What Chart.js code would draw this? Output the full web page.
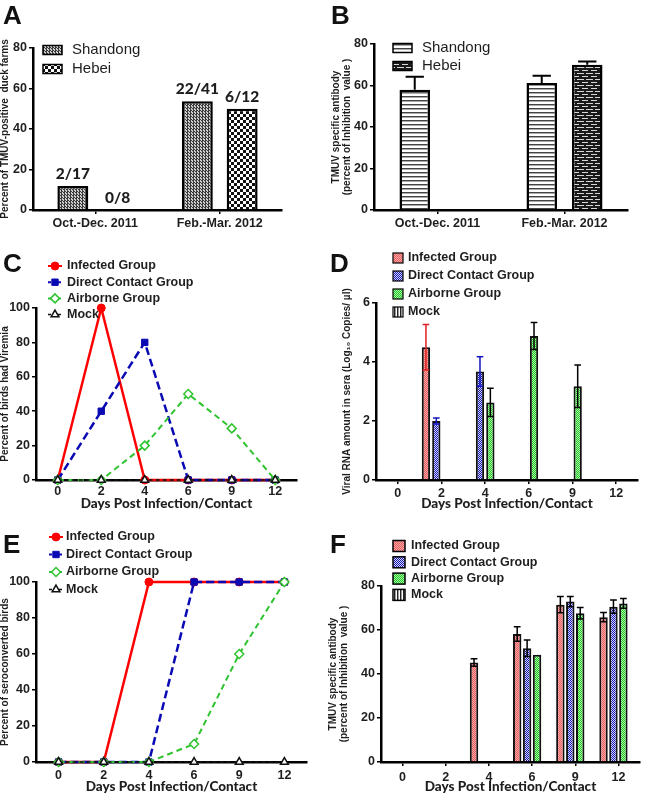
<!DOCTYPE html>
<html><head><meta charset="utf-8">
<script src="https://cdn.jsdelivr.net/npm/chart.js@4.4.1/dist/chart.umd.min.js"></script>
<style>
html,body{margin:0;padding:0;background:#fff}
body{width:650px;height:795px;position:relative;overflow:hidden}
canvas{position:absolute}
.L{position:absolute;font:bold 26px/26px 'Liberation Sans',Arial,sans-serif;color:#111}
</style></head><body>
<canvas id="cA" style="left:0;top:0" width="325" height="245"></canvas>
<canvas id="cB" style="left:325px;top:0" width="325" height="245"></canvas>
<canvas id="cC" style="left:0;top:245px" width="325" height="275"></canvas>
<canvas id="cD" style="left:325px;top:245px" width="325" height="275"></canvas>
<canvas id="cE" style="left:0;top:520px" width="325" height="275"></canvas>
<canvas id="cF" style="left:325px;top:520px" width="325" height="275"></canvas>
<div class="L" style="left:3px;top:2px">A</div>
<div class="L" style="left:331px;top:2px">B</div>
<div class="L" style="left:3px;top:250px">C</div>
<div class="L" style="left:330px;top:250px">D</div>
<div class="L" style="left:3px;top:531px">E</div>
<div class="L" style="left:330px;top:531px">F</div>
<script>
// ---------------- data ----------------
const periodLabels = ['Oct.-Dec. 2011', 'Feb.-Mar. 2012'];
const farmShandong = [11.8, 53.7];
const farmHebei = [0, 50];
const farmRatioShandong = ['2/17', '22/41'];
const farmRatioHebei = ['0/8', '6/12'];

const abFieldShandong = [57.9, 61.2];
const abFieldShandongErr = [6.3, 3.5];
const abFieldHebei = [null, 70.0];
const abFieldHebeiErr = [null, 1.6];

const dayLabels = ['0', '2', '4', '6', '9', '12'];
const groupNames = ['Infected Group', 'Direct Contact Group', 'Airborne Group', 'Mock'];

const viremiaInfected = [0, 100, 0, 0, 0, 0];
const viremiaDirect   = [0, 40, 80, 0, 0, 0];
const viremiaAirborne = [0, 0, 20, 50, 30, 0];
const viremiaMock     = [0, 0, 0, 0, 0, 0];

const rnaInfected    = [null, 4.5, null, null, null, null];
const rnaInfectedErr = [null, 0.77, null, null, null, null];
const rnaDirect      = [null, 2.0, 3.68, null, null, null];
const rnaDirectErr   = [null, 0.1, 0.5, null, null, null];
const rnaAirborne    = [null, null, 2.63, 4.88, 3.18, null];
const rnaAirborneErr = [null, null, 0.48, 0.46, 0.72, null];
const rnaMock        = [null, null, null, null, null, null];

const seroInfected = [0, 0, 100, 100, 100, 100];
const seroDirect   = [0, 0, 0, 100, 100, 100];
const seroAirborne = [0, 0, 0, 10, 60, 100];
const seroMock     = [0, 0, 0, 0, 0, 0];

const abInfected    = [null, null, 45.2, 58.2, 71.5, 65.8];
const abInfectedErr = [null, null, 1.7, 3.3, 3.7, 2.1];
const abDirect      = [null, null, null, 51.7, 72.9, 70.6];
const abDirectErr   = [null, null, null, 3.8, 2.3, 3.0];
const abAirborne    = [null, null, null, 48.7, 67.6, 72.1];
const abAirborneErr = [null, null, null, 0, 2.6, 2.2];
const abMock        = [null, null, null, null, null, null];

// ---------------- styles ----------------
const SANS = "'Liberation Sans', Arial, sans-serif";
const CAL = "Lato, 'Liberation Sans', sans-serif";
const TXT = '#1e1e1e';
const TICK_FONT = {family: SANS, size: 12.5, weight: 'bold'};
const XT_FONT = {family: CAL, size: 13.5, weight: '900', lineHeight: 1.2};
const YT_FONT = {family: SANS, size: 10, weight: 'bold', lineHeight: 1.05};

function pat(w, h, draw) {
  const c = document.createElement('canvas'); c.width = w; c.height = h;
  const g = c.getContext('2d'); draw(g); return g.createPattern(c, 'repeat');
}
function checker(a, b, s) {
  return pat(2 * s, 2 * s, g => { g.fillStyle = a; g.fillRect(0, 0, 2 * s, 2 * s); g.fillStyle = b; g.fillRect(0, 0, s, s); g.fillRect(s, s, s, s); });
}
const fillFarmShandong = pat(3, 3, g => { g.fillStyle = '#cfcfcf'; g.fillRect(0, 0, 3, 3); g.fillStyle = '#3a3a3a'; g.fillRect(0, 0, 2, 1); g.fillRect(1, 1, 1, 2); g.fillRect(2, 2, 1, 1); });
const fillFarmHebei = checker('#111111', '#ffffff', 3);
const fillAbShandong = pat(1, 4, g => { g.fillStyle = '#fff'; g.fillRect(0, 0, 1, 4); g.fillStyle = '#444'; g.fillRect(0, 0, 1, 1); g.fillStyle = '#aaa'; g.fillRect(0, 1, 1, 1); });
const fillAbHebei = pat(9, 6, g => {
  g.fillStyle = '#1a1a1a'; g.fillRect(0, 0, 9, 6);
  g.fillStyle = '#d8d8d8';
  g.fillRect(0, 1, 7, 1);
  g.fillRect(5, 4, 4, 1); g.fillRect(0, 4, 2, 1);
});
const fillInfected = checker('#e85e5e', '#f6a8a8', 1);
const fillDirect = checker('#1414b0', '#d6d8ff', 1);
const fillAirborne = checker('#22cc22', '#a8f2a8', 1);
const fillMock = pat(3, 1, g => { g.fillStyle = '#fff'; g.fillRect(0, 0, 3, 1); g.fillStyle = '#222'; g.fillRect(0, 0, 1, 1); g.fillStyle = '#999'; g.fillRect(1, 0, 1, 1); });

// ---------------- plugins ----------------
const errorBars = {
  id: 'errorBars',
  afterDatasetsDraw(chart) {
    const ctx = chart.ctx, ys = chart.scales.y;
    chart.data.datasets.forEach((ds, i) => {
      if (!ds.errors) return;
      const meta = chart.getDatasetMeta(i);
      meta.data.forEach((bar, j) => {
        const v = ds.data[j], e = ds.errors[j];
        if (v == null || !e) return;
        const top = ys.getPixelForValue(v + e);
        const bot = ys.getPixelForValue(ds.errorMode === 'up' ? v : v - e);
        const w = bar.width * (ds.capRatio || 0.6);
        ctx.save();
        ctx.strokeStyle = ds.errorColor || '#000';
        ctx.lineWidth = ds.errorWidth || 1.5;
        ctx.beginPath();
        ctx.moveTo(bar.x, bot); ctx.lineTo(bar.x, top);
        ctx.moveTo(bar.x - w / 2, top); ctx.lineTo(bar.x + w / 2, top);
        if (ds.errorMode !== 'up') { ctx.moveTo(bar.x - w / 2, bot); ctx.lineTo(bar.x + w / 2, bot); }
        ctx.stroke();
        ctx.restore();
      });
    });
  }
};

const valueLabels = {
  id: 'valueLabels',
  afterDatasetsDraw(chart) {
    const ctx = chart.ctx;
    chart.data.datasets.forEach((ds, i) => {
      if (!ds.valueLabels) return;
      const meta = chart.getDatasetMeta(i);
      meta.data.forEach((bar, j) => {
        const t = ds.valueLabels[j];
        if (!t) return;
        ctx.save();
        ctx.font = "900 15.5px " + CAL;
        ctx.fillStyle = TXT; ctx.textAlign = 'center'; ctx.textBaseline = 'alphabetic';
        ctx.fillText(t, bar.x, bar.y - 7);
        ctx.restore();
      });
    });
  }
};

const customLegend = {
  id: 'customLegend',
  afterDraw(chart, args, o) {
    if (!o || !o.display) return;
    const ctx = chart.ctx;
    chart.data.datasets.forEach((ds, i) => {
      const cy = o.y + i * o.rowH;
      ctx.save();
      if (o.swatch === 'box') {
        ctx.fillStyle = ds.backgroundColor;
        ctx.fillRect(o.x, cy - o.boxH / 2, o.boxW, o.boxH);
        ctx.strokeStyle = '#000'; ctx.lineWidth = o.boxBorder;
        ctx.strokeRect(o.x, cy - o.boxH / 2, o.boxW, o.boxH);
      } else {
        ctx.strokeStyle = ds.borderColor; ctx.lineWidth = Math.min(ds.borderWidth, 2);
        ctx.setLineDash(ds.borderDash ? [3, 2] : []);
        ctx.beginPath(); ctx.moveTo(o.x - 7, cy); ctx.lineTo(o.x + 7, cy); ctx.stroke();
        ctx.setLineDash([]);
        ctx.fillStyle = ds.pointBackgroundColor; ctx.strokeStyle = ds.pointBorderColor;
        ctx.lineWidth = ds.pointBorderWidth;
        Chart.helpers.drawPoint(ctx, {pointStyle: ds.pointStyle, rotation: 0, radius: ds.pointRadius, borderWidth: ds.pointBorderWidth}, o.x, cy);
      }
      ctx.fillStyle = TXT; ctx.font = o.font; ctx.textBaseline = 'middle'; ctx.textAlign = 'left';
      ctx.fillText(ds.label, o.textX, cy);
      ctx.restore();
    });
  }
};

// ---------------- options builder ----------------
function makeOptions(c) {
  return {
    responsive: false, animation: false, devicePixelRatio: 1,
    events: [],
    layout: {padding: {top: c.top, right: c.right, left: 0, bottom: 0}},
    plugins: {legend: {display: false}, tooltip: {enabled: false}, customLegend: c.legend},
    scales: {
      x: {
        type: 'category', offset: true,
        grid: {display: c.xTicks, drawTicks: c.xTicks, drawOnChartArea: false, offset: false, tickLength: 4, color: '#000', lineWidth: 1.5},
        border: {display: true, color: '#000', width: 2.5},
        ticks: {font: TICK_FONT, color: TXT, padding: c.xPad, maxRotation: 0, autoSkip: false},
        title: {display: !!c.xTitle, text: c.xTitle, font: XT_FONT, color: TXT, padding: {top: 0, bottom: c.xTitlePad || 0}},
        afterFit(s) { s.height = c.xH; }
      },
      y: {
        min: 0, max: c.ymax,
        ticks: {stepSize: c.step, font: TICK_FONT, color: TXT, padding: 2},
        grid: {drawOnChartArea: false, tickLength: 4, color: '#000', lineWidth: 1.5},
        border: {display: true, color: '#000', width: 2.5},
        title: {display: true, text: c.yTitle, font: YT_FONT, color: TXT, padding: {top: c.yTitlePad, bottom: 0}},
        afterFit(s) { s.width = c.yW; }
      }
    }
  };
}

const LEG_BOLD = "bold 12.5px " + SANS;
const LEG_REG = "15px " + SANS;
const plugins = [errorBars, valueLabels, customLegend];

// ---- A ----
new Chart(document.getElementById('cA'), {
  type: 'bar',
  data: {labels: periodLabels, datasets: [
    {label: 'Shandong', data: farmShandong, valueLabels: farmRatioShandong, backgroundColor: fillFarmShandong, borderColor: '#000', borderWidth: 2.5, categoryPercentage: 0.72, barPercentage: 0.69},
    {label: 'Hebei', data: farmHebei, valueLabels: farmRatioHebei, backgroundColor: fillFarmHebei, borderColor: '#000', borderWidth: 2.5, categoryPercentage: 0.72, barPercentage: 0.69}
  ]},
  options: makeOptions({top: 48, right: 43, yW: 33, xH: 35, ymax: 80, step: 20, xTicks: true, xPad: 2,
    yTitle: 'Percent of TMUV-positive  duck farms', yTitlePad: 0,
    legend: {display: true, swatch: 'box', x: 43, y: 50, rowH: 19, boxW: 19, boxH: 9, boxBorder: 1.5, textX: 72, font: LEG_REG}}),
  plugins
});

// ---- B ----
new Chart(document.getElementById('cB'), {
  type: 'bar',
  data: {labels: periodLabels, datasets: [
    {label: 'Shandong', data: abFieldShandong, errors: abFieldShandongErr, errorMode: 'up', errorWidth: 2, backgroundColor: fillAbShandong, borderColor: '#000', borderWidth: 2.5, categoryPercentage: 0.717, barPercentage: 0.67},
    {label: 'Hebei', data: abFieldHebei, errors: abFieldHebeiErr, errorMode: 'up', errorWidth: 2, backgroundColor: fillAbHebei, borderColor: '#000', borderWidth: 2.5, categoryPercentage: 0.717, barPercentage: 0.67}
  ]},
  options: makeOptions({top: 44, right: 22, yW: 49, xH: 35, ymax: 80, step: 20, xTicks: true, xPad: 2,
    yTitle: ['TMUV specific antibody', '(percent of Inhibition  value )'], yTitlePad: 6,
    legend: {display: true, swatch: 'box', x: 68, y: 48, rowH: 18, boxW: 19, boxH: 9, boxBorder: 1.5, textX: 97, font: LEG_REG}}),
  plugins
});

// ---- dataset helpers ----
function lineSets(inf, dir, air, mock) {
  return [
    {label: groupNames[0], data: inf, borderColor: '#ff0000', borderWidth: 2.5, pointStyle: 'circle', pointRadius: 4, pointBackgroundColor: '#ff0000', pointBorderColor: '#ff0000', pointBorderWidth: 1, clip: false, order: 3},
    {label: groupNames[1], data: dir, borderColor: '#0a0ab4', borderWidth: 2.5, borderDash: [8, 4], pointStyle: 'rect', pointRadius: 4.5, pointBackgroundColor: '#0a0ab4', pointBorderColor: '#0a0ab4', pointBorderWidth: 1, clip: false, order: 2},
    {label: groupNames[2], data: air, borderColor: '#2fc42f', borderWidth: 2, borderDash: [6, 4], pointStyle: 'rectRot', pointRadius: 4.5, pointBackgroundColor: '#ffffff', pointBorderColor: '#2fc42f', pointBorderWidth: 1.5, clip: false, order: 1},
    {label: groupNames[3], data: mock, borderColor: '#111111', borderWidth: 1.5, borderDash: [4, 3], pointStyle: 'triangle', pointRadius: 4.5, pointBackgroundColor: '#ffffff', pointBorderColor: '#111111', pointBorderWidth: 1.5, clip: false, order: 0}
  ];
}
function barSets(inf, infE, dir, dirE, air, airE, mock, colored, cp, bp) {
  return [
    {label: groupNames[0], data: inf, errors: infE, errorColor: colored ? '#e02020' : '#000', backgroundColor: fillInfected, borderColor: '#111', borderWidth: 2, categoryPercentage: cp, barPercentage: bp, capRatio: 0.8},
    {label: groupNames[1], data: dir, errors: dirE, errorColor: colored ? '#1515c0' : '#000', backgroundColor: fillDirect, borderColor: '#111', borderWidth: 2, categoryPercentage: cp, barPercentage: bp, capRatio: 0.8},
    {label: groupNames[2], data: air, errors: airE, errorColor: '#000', backgroundColor: fillAirborne, borderColor: '#111', borderWidth: 2, categoryPercentage: cp, barPercentage: bp, capRatio: 0.8},
    {label: groupNames[3], data: mock, backgroundColor: fillMock, borderColor: '#111', borderWidth: 2, categoryPercentage: cp, barPercentage: bp}
  ];
}

// ---- C ----
new Chart(document.getElementById('cC'), {
  type: 'line',
  data: {labels: dayLabels, datasets: lineSets(viremiaInfected, viremiaDirect, viremiaAirborne, viremiaMock)},
  options: makeOptions({top: 63, right: 28, yW: 36, xH: 40, ymax: 100, step: 20, xTicks: false, xPad: 4,
    xTitle: 'Days Post Infection/Contact', xTitlePad: 8.5,
    yTitle: 'Percent of birds had Viremia', yTitlePad: 0,
    legend: {display: true, swatch: 'line', x: 55, y: 21, rowH: 16.2, textX: 67, font: LEG_BOLD}}),
  plugins
});

// ---- D ----
new Chart(document.getElementById('cD'), {
  type: 'bar',
  data: {labels: dayLabels, datasets: barSets(rnaInfected, rnaInfectedErr, rnaDirect, rnaDirectErr, rnaAirborne, rnaAirborneErr, rnaMock, true, 0.95, 0.8)},
  options: makeOptions({top: 58, right: 12, yW: 51, xH: 40, ymax: 6, step: 2, xTicks: true, xPad: 2,
    xTitle: 'Days Post Infection/Contact', xTitlePad: 8,
    yTitle: 'Viral RNA amount in sera (Log\u2081\u2080 Copies/ \u00b5l)', yTitlePad: 17,
    legend: {display: true, swatch: 'box', x: 68, y: 13, rowH: 18, boxW: 10, boxH: 10, boxBorder: 1.2, textX: 83, font: LEG_BOLD}}),
  plugins
});

// ---- E ----
new Chart(document.getElementById('cE'), {
  type: 'line',
  data: {labels: dayLabels, datasets: lineSets(seroInfected, seroDirect, seroAirborne, seroMock)},
  options: makeOptions({top: 62, right: 18, yW: 36, xH: 33, ymax: 100, step: 20, xTicks: false, xPad: 6,
    xTitle: 'Days Post Infection/Contact', xTitlePad: 0,
    yTitle: 'Percent of seroconverted birds', yTitlePad: 0,
    legend: {display: true, swatch: 'line', x: 56, y: 17, rowH: 17.5, textX: 66, font: LEG_BOLD}}),
  plugins
});

// ---- F ----
new Chart(document.getElementById('cF'), {
  type: 'bar',
  data: {labels: dayLabels, datasets: barSets(abInfected, abInfectedErr, abDirect, abDirectErr, abAirborne, abAirborneErr, abMock, false, 0.92, 0.85)},
  options: makeOptions({top: 66, right: 10, yW: 56, xH: 33, ymax: 80, step: 20, xTicks: true, xPad: 4,
    xTitle: 'Days Post Infection/Contact', xTitlePad: 0,
    yTitle: ['TMUV specific antibody', '(percent of Inhibition  value )'], yTitlePad: 3,
    legend: {display: true, swatch: 'box', x: 68, y: 26, rowH: 16.3, boxW: 12, boxH: 11, boxBorder: 1.5, textX: 86, font: LEG_BOLD}}),
  plugins
});
</script>
</body></html>
